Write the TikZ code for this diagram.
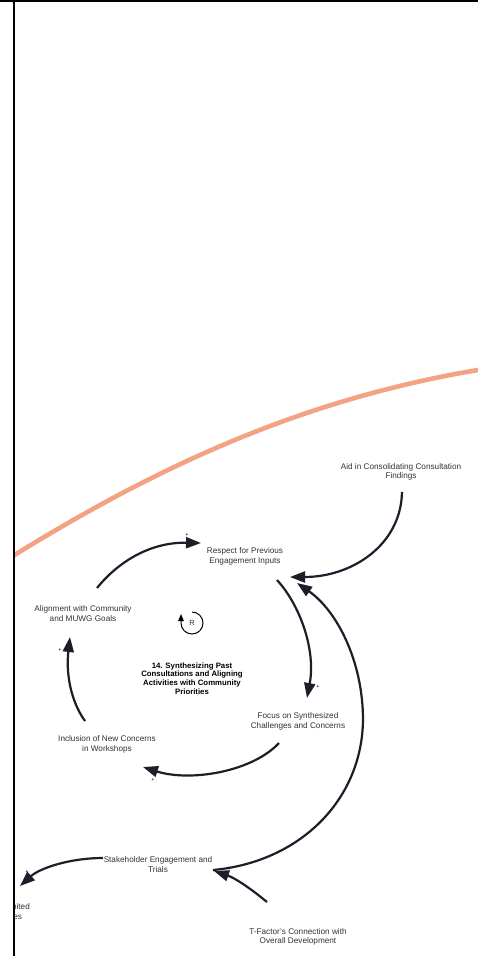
\documentclass[tikz,border=0pt]{standalone}
\usepackage{fontspec}
\setmainfont{Liberation Sans}
\usetikzlibrary{arrows.meta}
\definecolor{linkc}{HTML}{1E1E2A}
\definecolor{boundary}{HTML}{F4A284}
\definecolor{labelc}{HTML}{333333}
\tikzset{
  var/.style={align=center, font=\fontsize{8.2}{9.7}\selectfont, text=labelc, inner sep=1pt},
  theme/.style={align=center, font=\fontsize{7.8}{8.6}\selectfont\bfseries, text=black, inner sep=1pt},
  link/.style={draw=linkc, line width=2.2pt, -{Triangle[length=15pt,width=11pt]}},
  pol/.style={font=\fontsize{5.5}{5.5}\selectfont, text=black, inner sep=0pt},
  frame/.style={draw=black, line width=2pt},
}
\begin{document}
\begin{tikzpicture}[x=1pt,y=-1pt]
\useasboundingbox (0,0) rectangle (478,956);
\fill[white] (0,0) rectangle (478,956);

\begin{scope}
  \clip (14,0) rectangle (478,956);

  % boundary arc
  \draw[boundary, line width=4.6pt] (0,564) .. controls (150,470) and (300,398) .. (490,368);

  % variables
  \node[var] (resp)  at (245,556.5) {Respect for Previous\\Engagement Inputs};
  \node[var] (aid)   at (401,472) {Aid in Consolidating Consultation\\Findings};
  \node[var] (align) at (83,613.5) {Alignment with Community\\and MUWG Goals};
  \node[var] (focus) at (298,721.5) {Focus on Synthesized\\Challenges and Concerns};
  \node[var] (incl)  at (107,744.5) {Inclusion of New Concerns\\in Workshops};
  \node[var] (stake) at (158,864.5) {Stakeholder Engagement and\\Trials};
  \node[var] (tfac)  at (298,937) {T-Factor's Connection with\\Overall Development};
  \node[var] (limit) at (6.3,911.5) {Time-Limited\\Services};
  \node[theme] (loopname) at (192,678.5) {14. Synthesizing Past\\Consultations and Aligning\\Activities with Community\\Priorities};

  % connector end points
  \coordinate (align-out) at (97,588);
  \coordinate (resp-in1)  at (201,543);
  \coordinate (resp-out)  at (277,580);
  \coordinate (focus-in)  at (307,698);
  \coordinate (focus-out) at (279,743);
  \coordinate (incl-in)   at (143,767);
  \coordinate (incl-out)  at (85,721);
  \coordinate (align-in)  at (70,637);
  \coordinate (aid-out)   at (402,492);
  \coordinate (resp-in2)  at (290,577);
  \coordinate (resp-in3)  at (297,583);
  \coordinate (stake-out) at (213,870);
  \coordinate (stake-bend) at (363,720);
  \coordinate (tfac-out)  at (267,902);
  \coordinate (stake-in)  at (214,871);
  \coordinate (stake-out2) at (103,858);
  \coordinate (limit-in)  at (20,886);

  % reinforcing loop
  \draw[link] (align-out) .. controls (118,562) and (150,542) .. (resp-in1);
  \draw[link] (resp-out) .. controls (300,605) and (316,650) .. (focus-in);
  \draw[link] (focus-out) .. controls (252,772) and (190,782) .. (incl-in);
  \draw[link] (incl-out) .. controls (70,700) and (66,672) .. (align-in);

  % external links
  \draw[link] (aid-out) .. controls (401,545) and (352,577) .. (resp-in2);
  \draw[link] (stake-out) .. controls (300,862) and (362,800) .. (stake-bend)
              .. controls (363,660) and (336,610) .. (resp-in3);
  \draw[link] (tfac-out) .. controls (250,888) and (235,878) .. (stake-in);
  \draw[link] (stake-out2) .. controls (70,858) and (40,868) .. (limit-in);

  % polarities
  \node[pol] (p1) at (187,535) {+};
  \node[pol] (p2) at (318,687) {+};
  \node[pol] (p3) at (153,780) {+};
  \node[pol] (p4) at (60,650) {+};
  \node[pol] (p5) at (27,872) {+};
  \node[pol] (p6) at (229,869) {+};

  % loop marker (y axis points down, so angles run the other way)
  \coordinate (rc) at (192,623);
  \draw[draw=black, line width=1pt, -{Triangle[length=7pt,width=5.5pt]}]
    (rc) ++(0,-11) arc[start angle=-90, end angle=180, radius=11] -- ++(0,-9);
  \node[font=\fontsize{7.5}{7.5}\selectfont, text=labelc] (rlabel) at (rc) {R};
\end{scope}

% frame
\draw[frame] (0,0.8) -- (478,0.8);
\draw[frame] (14,0) -- (14,956);
\end{tikzpicture}
\end{document}
